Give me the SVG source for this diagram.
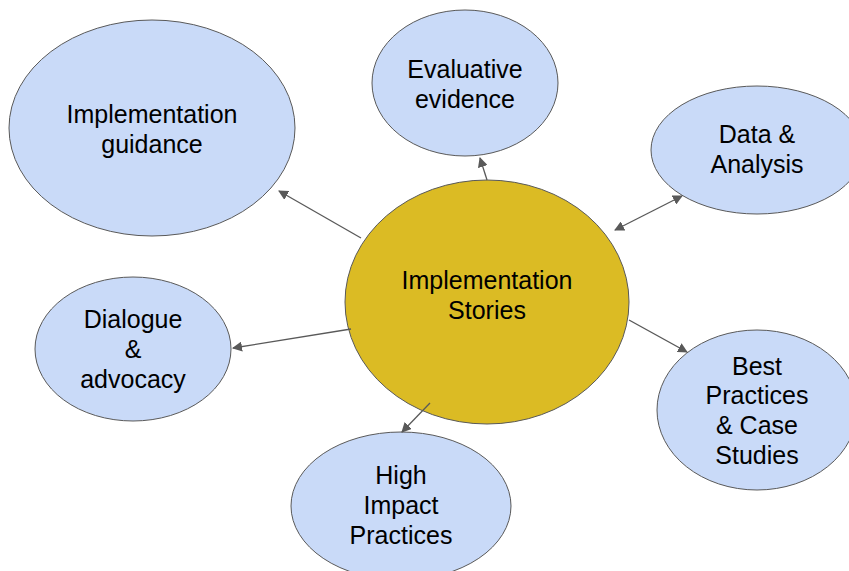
<svg xmlns="http://www.w3.org/2000/svg" width="849" height="571" viewBox="0 0 849 571">
<style>
.n{fill:#c9daf8;stroke:#595959;stroke-width:1}
.c{fill:#dbbb24;stroke:#595959;stroke-width:1}
text{font-family:"Liberation Sans",Arial,sans-serif;font-size:25px;fill:#000;text-anchor:middle}
.e{stroke:#595959;stroke-width:1.3;fill:none}
</style>
<defs>
<marker id="ah" viewBox="0 0 10 10" refX="9" refY="5" markerWidth="10" markerHeight="10" markerUnits="userSpaceOnUse" orient="auto-start-reverse">
<path d="M0,0 L10,5 L0,10 z" fill="#595959"/>
</marker>
</defs>
<rect width="849" height="571" fill="#fff"/>
<g id="guidance"><ellipse class="n" cx="152" cy="128" rx="143" ry="108"/><text x="152" y="123">Implementation</text><text x="152" y="153">guidance</text></g>
<g id="evaluative"><ellipse class="n" cx="465" cy="83" rx="93" ry="73"/><text x="465" y="78">Evaluative</text><text x="465" y="108">evidence</text></g>
<g id="data"><ellipse class="n" cx="757" cy="150" rx="106" ry="64"/><text x="757" y="143">Data &amp;</text><text x="757" y="173">Analysis</text></g>
<g id="dialogue"><ellipse class="n" cx="133" cy="349" rx="98" ry="72"/><text x="133" y="328">Dialogue</text><text x="133" y="358">&amp;</text><text x="133" y="388">advocacy</text></g>
<g id="high"><ellipse class="n" cx="401" cy="506" rx="110" ry="74"/><text x="401" y="484">High</text><text x="401" y="514">Impact</text><text x="401" y="544">Practices</text></g>
<g id="best"><ellipse class="n" cx="757" cy="410" rx="100" ry="80"/><text x="757" y="375">Best</text><text x="757" y="404">Practices</text><text x="757" y="434">&amp; Case</text><text x="757" y="464">Studies</text></g>
<g id="center"><ellipse class="c" cx="487" cy="302" rx="142" ry="122"/><text x="487" y="289">Implementation</text><text x="487" y="319">Stories</text></g>
<g id="connectors">
<line class="e" x1="361" y1="238" x2="279" y2="191" marker-end="url(#ah)"/>
<line class="e" x1="487" y1="180" x2="480" y2="158" marker-end="url(#ah)"/>
<line class="e" x1="615" y1="230" x2="682" y2="196" marker-start="url(#ah)" marker-end="url(#ah)"/>
<line class="e" x1="351" y1="329" x2="233" y2="348" marker-end="url(#ah)"/>
<line class="e" x1="430" y1="403" x2="402" y2="432" marker-end="url(#ah)"/>
<line class="e" x1="629" y1="320" x2="687" y2="352" marker-end="url(#ah)"/>
</g>
</svg>
